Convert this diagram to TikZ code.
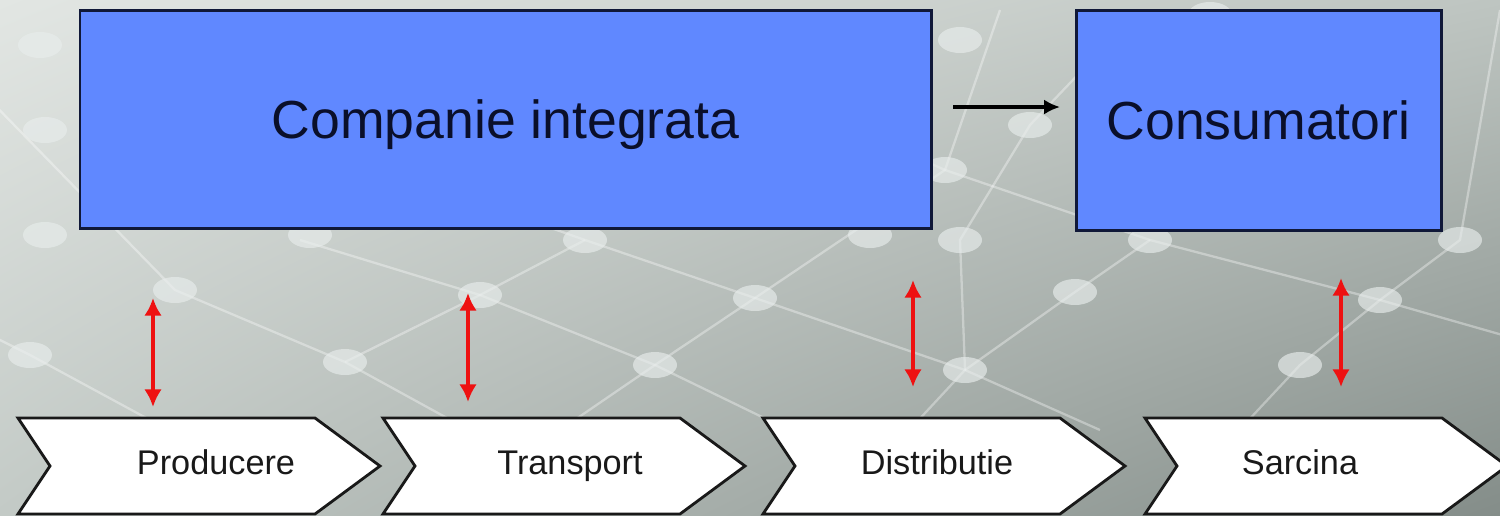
\documentclass[tikz,border=0pt]{standalone}
\usepackage{fontspec}
\setmainfont{Liberation Sans}
\usetikzlibrary{arrows.meta,shadings}
\definecolor{boxblue}{HTML}{6088FF}
\definecolor{boxedge}{HTML}{101838}
\definecolor{txt}{HTML}{0A0F2A}
\definecolor{bgUL}{HTML}{E2E6E3}
\definecolor{bgUR}{HTML}{BEC5C1}
\definecolor{bgLL}{HTML}{C3CAC6}
\definecolor{bgLR}{HTML}{848D89}
\definecolor{blob}{HTML}{E8EDEC}
\definecolor{redarrow}{HTML}{EE1111}
\tikzset{
  bigbox/.style={draw=boxedge, line width=1.7pt, fill=boxblue, text=txt,
    font=\fontsize{30.5}{36}\selectfont, text height=21.8pt, text depth=0pt},
  chev/.style={draw=black!90, line width=1.6pt, fill=white},
  chevtext/.style={text=black!90, font=\fontsize{19.5}{23}\selectfont, text height=14pt, text depth=0pt, inner sep=0pt},
  redarr/.style={draw=redarrow, line width=2.8pt, {Latex[length=10pt,width=10pt]}-{Latex[length=10pt,width=10pt]}},
  blackarr/.style={draw=black, line width=1.9pt, -{Latex[length=9pt,width=8.5pt]}},
  net/.style={draw=white, opacity=0.35, line width=1.3pt},
  dot/.style={fill=blob, opacity=0.65}
}
\begin{document}
\begin{tikzpicture}[x=0.02cm,y=-0.02cm]
\useasboundingbox (0,0) rectangle (1500,515);
\clip (0,0) rectangle (1500,515);
% background
\shade[upper left=bgUL, upper right=bgUR, lower left=bgLL, lower right=bgLR] (0,0) rectangle (1500,515);
% decorative network
\draw[net] (-20,90) -- (175,290) -- (345,362) -- (560,480);
\draw[net] (-20,330) -- (30,355) -- (150,420);
\draw[net] (300,240) -- (480,295) -- (655,365) -- (830,450);
\draw[net] (330,150) -- (585,240) -- (755,298) -- (965,370) -- (1100,430);
\draw[net] (480,295) -- (345,362);
\draw[net] (585,240) -- (480,295);
\draw[net] (1000,10) -- (945,170) -- (755,298) -- (655,365) -- (560,430);
\draw[net] (1130,20) -- (1030,125) -- (960,240) -- (965,370) -- (900,440);
\draw[net] (1150,240) -- (1075,292) -- (965,370);
\draw[net] (1500,10) -- (1460,240) -- (1380,300) -- (1300,365) -- (1230,440);
\draw[net] (1150,240) -- (1380,300) -- (1520,340);
\draw[net] (700,60) -- (945,170) -- (1150,240);
\foreach \p in {(40,45),(45,130),(45,235),(175,290),(30,355),(345,362),(480,295),(585,240),(755,298),(655,365),(960,40),(945,170),(960,240),(965,370),(1075,292),(1030,125),(1150,240),(1380,300),(1300,365),(1460,240),(310,235),(1210,15),(870,235)}
  \fill[dot] \p ellipse (22 and 13);
% top boxes
\node[bigbox, minimum width=851*0.02cm, minimum height=218*0.02cm] (comp) at (505.5,119) {Companie integrata};
\node[bigbox, minimum width=365*0.02cm, minimum height=220*0.02cm] (cons) at (1258.5,120) {Consumatori};
\coordinate (ba) at (953,107);
\coordinate (bb) at (1060,107);
\draw[blackarr] (ba) -- (bb);
% chevrons
\foreach \L/\name/\lab/\cx in {18/prod/Producere/216, 383/trans/Transport/570, 763/dist/Distributie/937, 1145/sarc/Sarcina/1300}{
  \path[chev] (\L,418) -- (\L+297,418) -- (\L+362,466) -- (\L+297,514) -- (\L,514) -- (\L+32,466) -- cycle;
  \node[chevtext] (\name) at (\cx,462) {\lab};
}
% red arrows
\coordinate (r1a) at (153,298); \coordinate (r1b) at (153,407);
\coordinate (r2a) at (468,293); \coordinate (r2b) at (468,402);
\coordinate (r3a) at (913,280); \coordinate (r3b) at (913,387);
\coordinate (r4a) at (1341,278); \coordinate (r4b) at (1341,387);
\draw[redarr] (r1a) -- (r1b);
\draw[redarr] (r2a) -- (r2b);
\draw[redarr] (r3a) -- (r3b);
\draw[redarr] (r4a) -- (r4b);
\end{tikzpicture}
\end{document}
